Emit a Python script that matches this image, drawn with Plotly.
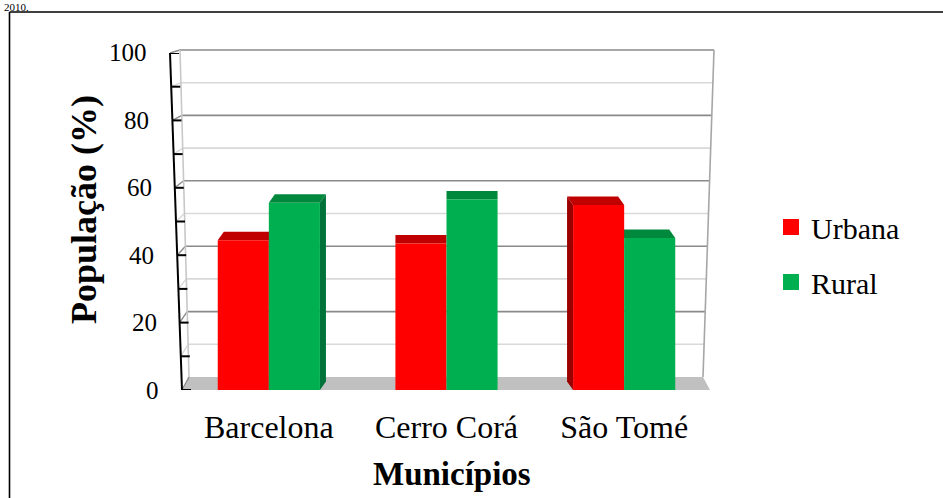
import plotly.graph_objects as go

# ---- data -------------------------------------------------------------
municipios = ["Barcelona", "Cerro Corá", "São Tomé"]
urbana = [44.4, 43.5, 54.9]
rural = [55.6, 56.5, 45.1]
series_names = ["Urbana", "Rural"]
y_ticks = [0, 20, 40, 60, 80, 100]
y_title = "População (%)"
x_title = "Municípios"
caption_tail = "2010."

# ---- styling ----------------------------------------------------------
W, H = 943, 498
FONT = "Liberation Serif"
front_colors = ["#ff0000", "#00b050"]
top_colors = ["#c00000", "#00883c"]
side_colors = ["#9a0000", "#00723a"]
GRID_MAJOR = "#8a8a8a"
GRID_MINOR = "#d9d9d9"

# pseudo-3D frame geometry (pixels)
F_Y0, F_Y100 = 390, 53      # front plane: y pixel of 0 and 100
B_Y0, B_Y100 = 377, 50      # back wall
AX_X0, AX_X100 = 182, 170   # value axis leans with the perspective
BL_X0, BL_X100 = 189, 180   # back wall, left edge
BR_X0, BR_X100 = 703, 714   # back wall, right edge
FLOOR_L, FLOOR_R = 183, 710
PLOT_L, PLOT_R = 180, 713   # horizontal extent of the category axis
BAR_GAP = 0.425
DEPTH_PX = 8.5
SKEW = 0.034


def px(x):
    return x / W


def py(y):
    return 1 - y / H


def lerp(a, b, t):
    return a + (b - a) * t


def front_y(v):
    return lerp(F_Y0, F_Y100, v / 100)


def back_y(v):
    return lerp(B_Y0, B_Y100, v / 100)


def axis_x(v):
    return lerp(AX_X0, AX_X100, v / 100)


def wall_left(v):
    return lerp(BL_X0, BL_X100, v / 100)


def wall_right(v):
    return lerp(BR_X0, BR_X100, v / 100)


def paper_path(points):
    pts = [f"{px(x):.5f},{py(y):.5f}" for x, y in points]
    return "M" + " L".join(pts) + " Z"


shapes = []

# floor
shapes.append(dict(
    type="path", xref="paper", yref="paper", layer="below",
    path=paper_path([(FLOOR_L, F_Y0), (FLOOR_R, F_Y0),
                     (BR_X0, B_Y0), (BL_X0, B_Y0)]),
    fillcolor="#c0c0c0", line=dict(width=0)))

# back-wall and side-wall gridlines
for v in range(0, 101, 10):
    col = GRID_MAJOR if v % 20 == 0 else GRID_MINOR
    if v > 0:
        shapes.append(dict(
            type="line", xref="paper", yref="paper", layer="below",
            x0=px(wall_left(v)), y0=py(back_y(v)),
            x1=px(wall_right(v)), y1=py(back_y(v)),
            line=dict(color=col, width=1.6)))
    shapes.append(dict(
        type="line", xref="paper", yref="paper", layer="below",
        x0=px(axis_x(v)), y0=py(front_y(v)),
        x1=px(wall_left(v)), y1=py(back_y(v)),
        line=dict(color=col, width=1.4)))

# back-wall side edges
shapes.append(dict(
    type="line", xref="paper", yref="paper", layer="below",
    x0=px(BL_X0), y0=py(B_Y0), x1=px(BL_X100), y1=py(B_Y100),
    line=dict(color="#c8c8c8", width=1.6)))
shapes.append(dict(
    type="line", xref="paper", yref="paper", layer="below",
    x0=px(BR_X0), y0=py(B_Y0), x1=px(BR_X100), y1=py(B_Y100),
    line=dict(color="#a6a6a6", width=1.6)))

# top and side faces of the columns (drawn under the front faces)
bw = (1 - BAR_GAP) / 2
depth_v = DEPTH_PX * 100 / (F_Y0 - F_Y100)
for j, values in enumerate([urbana, rural]):
    for i, v in enumerate(values):
        xc = i
        s = SKEW * (1 - xc)
        xl = xc - bw + j * bw
        xr = xl + bw
        shapes.append(dict(
            type="path", xref="x", yref="y", layer="below",
            path=(f"M{xl},{v} L{xr},{v} L{xr + s},{v + depth_v} "
                  f"L{xl + s},{v + depth_v} Z"),
            fillcolor=top_colors[j], line=dict(width=0)))
        if s != 0:
            xe = xr if s > 0 else xl
            shapes.append(dict(
                type="path", xref="x", yref="y", layer="below",
                path=(f"M{xe},0 L{xe},{v} L{xe + s},{v + depth_v} "
                      f"L{xe + s},{depth_v} Z"),
                fillcolor=side_colors[j], line=dict(width=0)))

# value axis line and ticks
shapes.append(dict(
    type="line", xref="paper", yref="paper", layer="above",
    x0=px(AX_X0), y0=py(F_Y0), x1=px(AX_X100), y1=py(F_Y100),
    line=dict(color="black", width=2)))
for v in range(0, 101, 10):
    shapes.append(dict(
        type="line", xref="paper", yref="y", layer="above",
        x0=px(axis_x(v)), x1=px(axis_x(v) + 9), y0=v, y1=v,
        line=dict(color="black", width=2)))

# outer frame (top and left edges)
shapes.append(dict(type="line", xref="paper", yref="paper",
                   x0=px(9.5), y0=py(12), x1=1, y1=py(12),
                   line=dict(color="black", width=1.6)))
shapes.append(dict(type="line", xref="paper", yref="paper",
                   x0=px(9.5), y0=py(12), x1=px(9.5), y1=0,
                   line=dict(color="black", width=1.6)))

annotations = []
for v in y_ticks:
    annotations.append(dict(
        xref="paper", yref="y", x=px(axis_x(v) - 21), y=v,
        xanchor="right", yanchor="middle", showarrow=False,
        text=str(v), font=dict(family=FONT, size=25, color="black")))

annotations.append(dict(
    xref="paper", yref="paper", x=px(84), y=py(210),
    text=f"<b>{y_title}</b>", textangle=-90, showarrow=False,
    xanchor="center", yanchor="middle",
    font=dict(family=FONT, size=36, color="black")))
annotations.append(dict(
    xref="paper", yref="paper", x=px(452), y=py(474),
    text=f"<b>{x_title}</b>", showarrow=False,
    xanchor="center", yanchor="middle",
    font=dict(family=FONT, size=33, color="black")))
annotations.append(dict(
    xref="paper", yref="paper", x=px(3), y=1,
    text=caption_tail, showarrow=False, borderpad=0,
    xanchor="left", yanchor="top",
    font=dict(family=FONT, size=11, color="black")))

fig = go.Figure()
for j, (name, values) in enumerate(zip(series_names, [urbana, rural])):
    fig.add_trace(go.Bar(
        x=list(range(len(municipios))), y=values, name=name,
        marker=dict(color=front_colors[j], line=dict(width=0)),
        showlegend=False, hoverinfo="skip"))
# legend entries
for j, name in enumerate(series_names):
    fig.add_trace(go.Scatter(
        x=[None], y=[None], mode="markers", name=name,
        legendgroup=name,
        marker=dict(symbol="square", size=16, color=front_colors[j])))

fig.update_layout(
    width=W, height=H,
    margin=dict(l=0, r=0, t=0, b=0),
    paper_bgcolor="white", plot_bgcolor="rgba(0,0,0,0)",
    barmode="group", bargap=BAR_GAP, bargroupgap=0,
    shapes=shapes, annotations=annotations,
    showlegend=True,
    legend=dict(
        x=px(771), y=py(201), xanchor="left", yanchor="top",
        traceorder="grouped", tracegroupgap=13,
        font=dict(family=FONT, size=30, color="black"),
        bgcolor="rgba(0,0,0,0)", itemwidth=30),
    xaxis=dict(
        domain=[px(PLOT_L), px(PLOT_R)], range=[-0.5, 2.5],
        tickvals=list(range(len(municipios))), ticktext=municipios,
        showgrid=False, zeroline=False, showline=False, ticks="",
        tickfont=dict(family=FONT, size=32, color="black"),
        ticklabelstandoff=15, fixedrange=True),
    yaxis=dict(
        domain=[py(F_Y0), py(F_Y100)], range=[0, 100],
        visible=False, fixedrange=True),
)

fig.write_html("out.html")
